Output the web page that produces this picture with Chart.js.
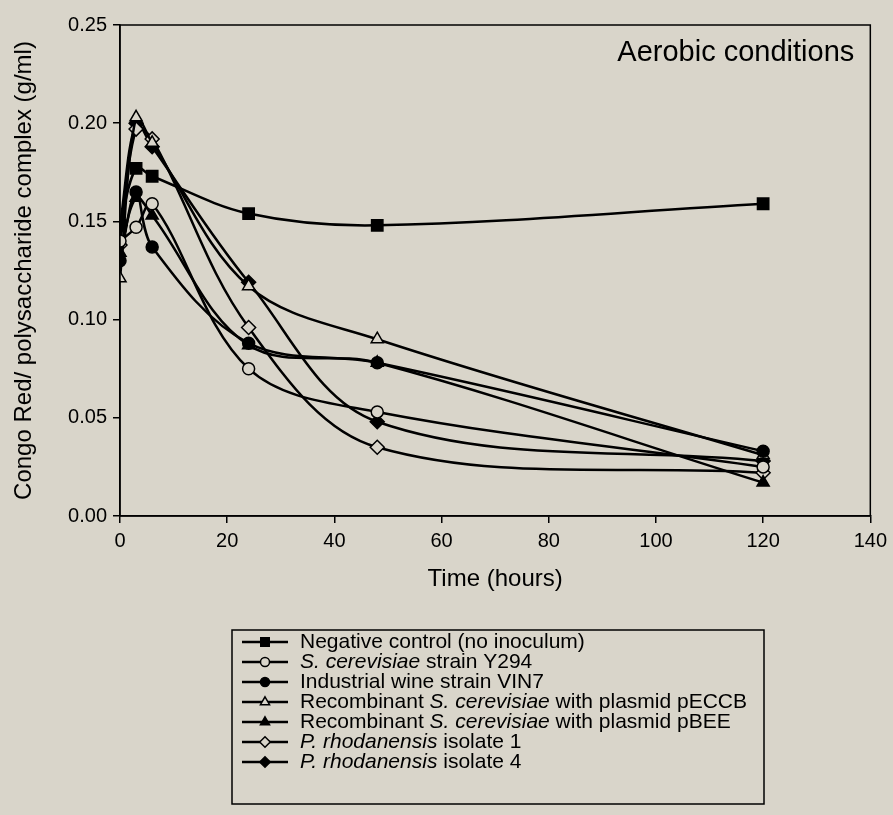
<!DOCTYPE html>
<html>
<head>
<meta charset="utf-8">
<script src="https://cdn.jsdelivr.net/npm/chart.js@4.4.0/dist/chart.umd.min.js"></script>
<style>
    html, body { margin: 0; padding: 0; background: #d9d5ca; }
    canvas { display: block; }
</style>
</head>
<body>
<canvas id="congoChart" width="893" height="815"></canvas>
<script>
// sampling times (hours)
var times = [0, 3, 6, 24, 48, 120];

// legend names, *...* marks the italic part
var seriesNames = [
    'Negative control (no inoculum)',
    '*S. cerevisiae* strain Y294',
    'Industrial wine strain VIN7',
    'Recombinant *S. cerevisiae* with plasmid pECCB',
    'Recombinant *S. cerevisiae* with plasmid pBEE',
    '*P. rhodanensis* isolate 1',
    '*P. rhodanensis* isolate 4'
];

// Congo Red / polysaccharide complex (g/ml)
var negativeControl = [0.148, 0.177, 0.173, 0.154, 0.148, 0.159];
var strainY294      = [0.140, 0.147, 0.159, 0.075, 0.053, 0.025];
var strainVIN7      = [0.130, 0.165, 0.137, 0.088, 0.078, 0.033];
var plasmidPECCB    = [0.121, 0.203, 0.190, 0.117, 0.090, 0.031];
var plasmidPBEE     = [0.134, 0.162, 0.153, 0.087, 0.078, 0.017];
var isolate1        = [0.138, 0.197, 0.192, 0.096, 0.035, 0.022];
var isolate4        = [0.148, 0.200, 0.188, 0.119, 0.048, 0.028];

var xTickValues = [0, 20, 40, 60, 80, 100, 120, 140];
var yTickLabels = ['0.00', '0.05', '0.10', '0.15', '0.20', '0.25'];

var bg = '#d9d5ca';
var fontFamily = 'Arial, "Liberation Sans", sans-serif';

function toPoints(values) {
    return values.map(function (v, i) { return { x: times[i], y: v }; });
}

function makeSet(i, values, style, filled, radius) {
    return {
        label: seriesNames[i].replace(/\*/g, ''),
        data: toPoints(values),
        borderColor: '#000',
        borderWidth: 2.5,
        tension: 0.35,
        pointStyle: style,
        pointRadius: radius,
        pointBackgroundColor: filled ? '#000' : bg,
        pointBorderColor: '#000',
        pointBorderWidth: 1.5,
        fill: false
    };
}

var frameAndNotes = {
    id: 'frameAndNotes',
    beforeDraw: function (chart) {
        var ctx = chart.ctx;
        ctx.save();
        ctx.fillStyle = bg;
        ctx.fillRect(0, 0, chart.width, chart.height);
        ctx.restore();
    },
    afterDraw: function (chart) {
        var ctx = chart.ctx;
        var a = chart.chartArea;
        ctx.save();
        // box round the plot
        ctx.strokeStyle = '#000';
        ctx.lineWidth = 1.5;
        ctx.strokeRect(a.left, a.top, a.right - a.left, a.bottom - a.top);

        ctx.fillStyle = '#000';
        ctx.font = '29px ' + fontFamily;
        ctx.textAlign = 'right';
        ctx.textBaseline = 'middle';
        ctx.fillText('Aerobic conditions', a.right - 16, 53);

        // legend below the plot
        ctx.strokeRect(232, 630, 532, 174);
        chart.data.datasets.forEach(function (ds, i) {
            var y = 642 + i * 20;
            ctx.strokeStyle = '#000';
            ctx.lineWidth = 2.5;
            ctx.beginPath();
            ctx.moveTo(242, y);
            ctx.lineTo(288, y);
            ctx.stroke();
            ctx.fillStyle = ds.pointBackgroundColor;
            ctx.lineWidth = 1.5;
            Chart.helpers.drawPoint(ctx, {
                pointStyle: ds.pointStyle,
                radius: ds.pointRadius * 0.75,
                borderWidth: 1.5,
                rotation: 0
            }, 265, y);

            ctx.fillStyle = '#000';
            ctx.textAlign = 'left';
            ctx.textBaseline = 'middle';
            var x = 300;
            seriesNames[i].split('*').forEach(function (part, k) {
                ctx.font = (k % 2 ? 'italic ' : '') + '21px ' + fontFamily;
                ctx.fillText(part, x, y);
                x += ctx.measureText(part).width;
            });
        });
        ctx.restore();
    }
};

var ctx = document.getElementById('congoChart').getContext('2d');
var congoChart = new Chart(ctx, {
    type: 'line',
    data: {
        datasets: [
            makeSet(0, negativeControl, 'rect', true, 8),
            makeSet(1, strainY294, 'circle', false, 6),
            makeSet(2, strainVIN7, 'circle', true, 6),
            makeSet(3, plasmidPECCB, 'triangle', false, 7),
            makeSet(4, plasmidPBEE, 'triangle', true, 7),
            makeSet(5, isolate1, 'rectRot', false, 7),
            makeSet(6, isolate4, 'rectRot', true, 7)
        ]
    },
    options: {
        responsive: false,
        animation: false,
        layout: { padding: { left: 10, right: 16, top: 25, bottom: 221 } },
        plugins: {
            legend: { display: false },
            tooltip: { enabled: false }
        },
        scales: {
            x: {
                type: 'linear',
                min: 0,
                max: 140,
                afterFit: function (scale) { scale.height = 78; },
                afterBuildTicks: function (scale) {
                    scale.ticks = xTickValues.map(function (v) { return { value: v }; });
                },
                ticks: { color: '#000', font: { size: 20, family: fontFamily }, padding: 6, maxRotation: 0 },
                grid: { drawOnChartArea: false, color: '#000', tickLength: 7, lineWidth: 1.5 },
                border: { color: '#000', width: 1.5 },
                title: {
                    display: true,
                    text: 'Time (hours)',
                    color: '#000',
                    padding: 0,
                    font: { size: 24, family: fontFamily }
                }
            },
            y: {
                min: 0,
                max: 0.25,
                afterFit: function (scale) { scale.width = 110; },
                ticks: {
                    stepSize: 0.05,
                    color: '#000',
                    padding: 6,
                    font: { size: 20, family: fontFamily },
                    callback: function (v, i) { return yTickLabels[i]; }
                },
                grid: { drawOnChartArea: false, color: '#000', tickLength: 7, lineWidth: 1.5 },
                border: { color: '#000', width: 1.5 },
                title: {
                    display: true,
                    text: 'Congo Red/ polysaccharide complex (g/ml)',
                    color: '#000',
                    padding: 0,
                    font: { size: 24, family: fontFamily }
                }
            }
        }
    },
    plugins: [frameAndNotes]
});
</script>
</body>
</html>
